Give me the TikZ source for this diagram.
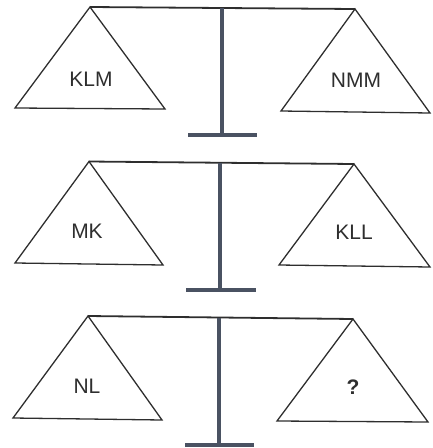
\documentclass[tikz,border=0pt]{standalone}
\usepackage{fontspec}
\setmainfont{Liberation Sans}
\definecolor{pole}{HTML}{4A5262}
\definecolor{ink}{HTML}{2E2E2E}
\tikzset{
  pan/.style={draw=ink, line width=1.3pt, line join=miter},
  beam/.style={draw=ink, line width=1.8pt},
  post/.style={draw=pole, line width=4pt},
  lbl/.style={font=\fontsize{21}{24}\selectfont, text=ink, inner sep=0pt}
}
\begin{document}
\begin{tikzpicture}[x=1pt, y=-1pt]
\useasboundingbox (0,0) rectangle (432,448);
% ---------- scale 1 ----------
\coordinate (a1) at (90,7);  \coordinate (b1) at (355,9);
\draw[beam] (a1) -- (b1);
\draw[pan] (a1) -- (15,108) -- (165,109) -- cycle;
\draw[pan] (b1) -- (281,111) -- (430,113) -- cycle;
\coordinate (t1) at (221.5,8); \coordinate (f1) at (221.5,134.5);
\draw[post] (t1) -- (f1);
\coordinate (fl1) at (188,134.5); \coordinate (fr1) at (257,134.5);
\draw[post] (fl1) -- (fr1);
\node[lbl] (klm) at (91,79) {KLM};
\node[lbl] (nmm) at (356,80) {NMM};
% ---------- scale 2 ----------
\coordinate (a2) at (89,161.5);  \coordinate (b2) at (354,164);
\draw[beam] (a2) -- (b2);
\draw[pan] (a2) -- (15,263) -- (163,265) -- cycle;
\draw[pan] (b2) -- (279,265) -- (430,267) -- cycle;
\coordinate (t2) at (220,163); \coordinate (f2) at (220,290);
\draw[post] (t2) -- (f2);
\coordinate (fl2) at (186,290); \coordinate (fr2) at (256,290);
\draw[post] (fl2) -- (fr2);
\node[lbl] (mk) at (87,231) {MK};
\node[lbl] (kll) at (354,232) {KLL};
% ---------- scale 3 ----------
\coordinate (a3) at (88,316);  \coordinate (b3) at (353,319);
\draw[beam] (a3) -- (b3);
\draw[pan] (a3) -- (13,418) -- (162,420) -- cycle;
\draw[pan] (b3) -- (277,421) -- (428,422) -- cycle;
\coordinate (t3) at (219,318); \coordinate (f3) at (219,445);
\draw[post] (t3) -- (f3);
\coordinate (fl3) at (185,445); \coordinate (fr3) at (254,445);
\draw[post] (fl3) -- (fr3);
\node[lbl] (nl) at (87,386) {NL};
\node[lbl, font=\fontsize{21}{24}\selectfont\bfseries] (q) at (353,387.5) {?};
\end{tikzpicture}
\end{document}
